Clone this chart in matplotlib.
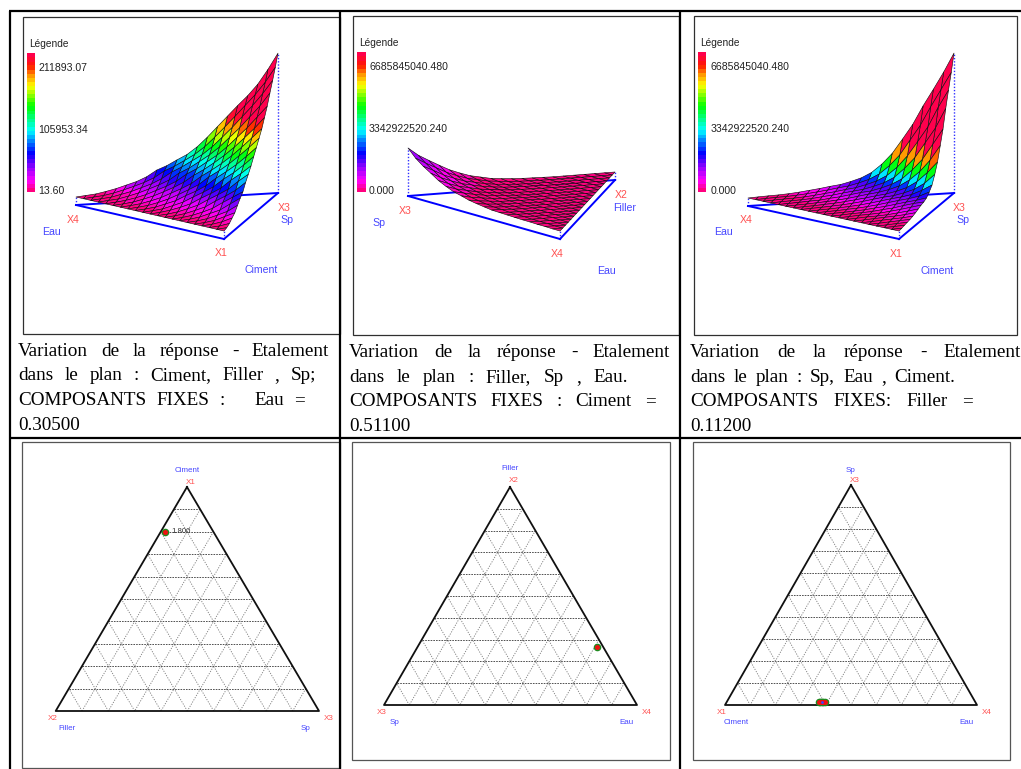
import numpy as np
import matplotlib
matplotlib.use("Agg")
import matplotlib.pyplot as plt
from matplotlib.collections import PolyCollection
from matplotlib.colors import LinearSegmentedColormap
from matplotlib.patches import Rectangle

# ---------- data: response surfaces, one row per mesh level from the apex outwards ----------
surface_ciment_filler_sp = [  # thousands
 [411],
 [362,374],
 [318,329,340],
 [284,292,300,308],
 [255,260,265,269,274],
 [224,228,233,237,242,246],
 [193,197,201,205,210,214,218],
 [162,167,172,177,182,186,191,196],
 [134,139,144,149,154,159,164,169,174],
 [112,117,121,126,130,135,139,144,148,153],
 [97,100,104,107,111,114,117,121,124,128,131],
 [81,84,87,89,92,95,98,101,104,106,109,112],
 [69,71,73,75,77,79,81,84,86,88,90,92,94],
 [50,52,54,55,57,59,60,62,64,66,67,69,71,72],
 [37,39,40,42,43,45,46,48,49,51,52,54,55,57,59],
 [28,29,30,31,32,33,34,35,37,38,39,40,41,42,43,44],
 [19,20,20,21,21,22,22,23,23,24,24,25,25,26,26,27,28],
 [12,12,13,13,13,14,14,14,15,15,15,16,16,16,17,17,18,19],
 [6,6,6,6,7,7,7,7,7,7,8,8,8,8,8,8,8,9,9],
 [3,3,3,3,3,3,3,3,3,3,3,3,3,3,3,3,3,3,3,3],
 [0,0,0,0,0,0,0,0,0,0,0,0,0,0,0,0,0,0,0,0,0],
]
surface_filler_sp_eau = [  # 1e9
 [1.49],
 [1.19,1.19],
 [.97,.97,.97],
 [.76,.77,.78,.79],
 [.56,.57,.58,.59,.60],
 [.41,.42,.43,.44,.45,.46],
 [.28,.29,.30,.31,.32,.33,.34],
 [.20,.21,.22,.23,.24,.25,.26,.27],
 [.12,.13,.14,.15,.16,.17,.18,.18,.19],
 [.08,.09,.09,.10,.11,.11,.12,.13,.13,.14],
 [.05,.05,.06,.06,.07,.07,.08,.08,.09,.09,.10],
 [.03,.03,.03,.04,.04,.04,.05,.05,.05,.06,.06,.06],
 [.02,.02,.02,.03,.03,.03,.03,.04,.04,.04,.04,.05,.05],
 [.01,.01,.01,.02,.02,.02,.02,.02,.03,.03,.03,.03,.03,.04],
 [.00,.00,.01,.01,.01,.01,.01,.02,.02,.02,.02,.02,.02,.03,.03],
 [.00,.00,.00,.00,.01,.01,.01,.01,.01,.01,.01,.02,.02,.02,.02,.02],
 [.00,.00,.00,.00,.00,.00,.01,.01,.01,.01,.01,.01,.01,.01,.01,.01,.02],
 [.00,.00,.00,.00,.00,.00,.00,.00,.00,.01,.01,.01,.01,.01,.01,.01,.01,.01],
 [.00,.00,.00,.00,.00,.00,.00,.00,.00,.00,.00,.00,.00,.00,.01,.01,.01,.01,.01],
 [.00,.00,.00,.00,.00,.00,.00,.00,.00,.00,.00,.00,.00,.00,.00,.00,.00,.00,.00,.00],
 [.00,.00,.00,.00,.00,.00,.00,.00,.00,.00,.00,.00,.00,.00,.00,.00,.00,.00,.00,.00,.00],
]
surface_sp_eau_ciment = [  # 1e9
 [22.3],
 [19.2,19.4],
 [16.4,16.6,16.8],
 [13.7,13.8,14.0,14.1],
 [10.7,10.8,10.8,10.9,11.0],
 [8.3,8.4,8.4,8.5,8.5,8.6],
 [6.0,6.0,6.1,6.1,6.1,6.2,6.2],
 [4.3,4.3,4.3,4.4,4.4,4.4,4.5,4.5],
 [3.0,3.0,3.0,3.0,3.0,3.1,3.1,3.1,3.1],
 [2.2,2.2,2.2,2.2,2.2,2.2,2.2,2.2,2.3,2.3],
 [1.7,1.7,1.7,1.7,1.7,1.7,1.7,1.7,1.7,1.7,1.7],
 [1.3,1.3,1.3,1.3,1.3,1.35,1.35,1.35,1.4,1.4,1.4,1.4],
 [1.1,1.1,1.1,1.1,1.15,1.15,1.15,1.2,1.2,1.2,1.2,1.25,1.25],
 [.85,.85,.85,.9,.9,.9,.9,.95,.95,.95,.95,1.0,1.0,1.0],
 [.65,.65,.65,.65,.65,.65,.7,.7,.7,.7,.7,.7,.75,.75,.75],
 [.45,.45,.45,.5,.5,.5,.5,.5,.5,.5,.55,.55,.55,.55,.55,.55],
 [.3,.3,.3,.3,.3,.35,.35,.35,.35,.35,.35,.35,.35,.35,.4,.4,.4],
 [.2,.2,.2,.2,.25,.25,.25,.25,.25,.25,.25,.25,.25,.25,.3,.3,.3,.3],
 [.15,.15,.15,.15,.15,.15,.15,.15,.15,.15,.15,.2,.2,.2,.2,.2,.2,.2,.2],
 [.08,.08,.08,.08,.08,.08,.08,.08,.08,.08,.08,.08,.08,.08,.08,.08,.08,.08,.08,.08],
 [0,0,0,0,0,0,0,0,0,0,0,0,0,0,0,0,0,0,0,0,0],
]
ticks_a = ["211893.07", "105953.34", "13.60"]
ticks_b = ["6685845040.480", "3342922520.240", "0.000"]
captions = [
 ["Variation de la réponse - Etalement", "dans le plan : Ciment, Filler , Sp;", "COMPOSANTS FIXES :   Eau =", "0.30500"],
 ["Variation de la réponse - Etalement", "dans le plan : Filler, Sp , Eau.", "COMPOSANTS FIXES : Ciment =", "0.51100"],
 ["Variation de la réponse - Etalement", "dans le plan : Sp, Eau , Ciment.", "COMPOSANTS FIXES: Filler =", "0.11200"],
]
# ternary compositions (top, left, right)
pts_a = [(0.80, 0.184, 0.016)]
pts_b = [(0.266, 0.025, 0.709)]
pts_c = [(0.014, 0.621, 0.365), (0.014, 0.615, 0.371), (0.014, 0.609, 0.377), (0.014, 0.603, 0.383), (0.014, 0.597, 0.389)]
point_label_a = "1.800"

# ---------- styling / layout ----------
BLUE_TXT = "#4646ff"; RED_TXT = "#ff5050"; BLUE = "#0000ff"
SANS = "Liberation Sans"; SERIF = "Liberation Serif"
spectrum = LinearSegmentedColormap.from_list("spec", [
 (0.00, (1, 0, .5)), (0.07, (1, 0, 1)), (0.17, (.55, 0, 1)), (0.27, (0, 0, 1)),
 (0.36, (0, .5, 1)), (0.44, (0, 1, 1)), (0.62, (0, 1, 0)), (0.77, (1, 1, 0)),
 (0.85, (1, .6, 0)), (0.92, (1, .1, 0)), (1.00, (1, 0, .3))], N=34)

fig = plt.figure(figsize=(10.21, 7.69), dpi=100, facecolor="white")
ax = fig.add_axes([0, 0, 1, 1])
ax.set_axis_off()

def frame(x0, y0, x1, y1, color="#303030"):
    ax.add_patch(Rectangle((x0, y0), x1-x0, y1-y0, fc="white", ec=color, lw=0.9, zorder=1))

def surface(rows, tip, left, right, h0, px_per_unit, vmax):
    n = len(rows) - 1
    tip, left, right = map(np.array, (tip, left, right))
    def node(k, j):
        p = tip*(1-k/n) + left*(k-j)/n + right*j/n
        return (p[0], p[1] - h0 - rows[k][j]*px_per_unit)
    polys, vals = [], []
    for k in range(n):
        for j in range(k+1):
            if k + 2 <= n:
                polys.append([node(k, j), node(k+1, j), node(k+2, j+1), node(k+1, j+1)])
                vals.append(np.mean([rows[k][j], rows[k+1][j], rows[k+2][j+1], rows[k+1][j+1]]))
            else:
                polys.append([node(k, j), node(k+1, j), node(k+1, j+1)])
                vals.append(np.mean([rows[k][j], rows[k+1][j], rows[k+1][j+1]]))
    pc = PolyCollection(polys, array=np.array(vals), cmap=spectrum, clim=(0, vmax),
                        edgecolors="#101010", linewidths=0.42, zorder=3)
    ax.add_collection(pc)
    for c, z in ((tip, rows[0][0]), (left, rows[n][0]), (right, rows[n][n])):
        ax.plot([c[0], c[0]], [c[1], c[1]-h0-z*px_per_unit], ls=(0, (1, 1.3)), color="#3030ff", lw=1.0, zorder=2)
    ax.plot(*zip(tip, left), color=BLUE, lw=1.4, zorder=2)
    ax.plot(*zip(tip, right), color=BLUE, lw=1.4, zorder=2)
    ax.plot(*zip(left, right), color=BLUE, lw=1.4, zorder=2)

def colorbar(x0, x1, y0, y1, ticks, tick_x, tick_ys, leg_x, leg_y):
    ax.imshow(np.linspace(1, 0, 256).reshape(-1, 1), cmap=spectrum, vmin=0, vmax=1,
              extent=(x0, x1, y1, y0), aspect="auto", zorder=2, interpolation="nearest")
    ax.text(leg_x, leg_y, "Légende", family=SANS, fontsize=7.3, color="#222222", va="center", zorder=4)
    for t, y in zip(ticks, tick_ys):
        ax.text(tick_x, y, t, family=SANS, fontsize=7.6, color="#222222", va="center", zorder=4)

def lab(x, y, s, c, size=7.6):
    ax.text(x, y, s, family=SANS, fontsize=size, color=c, ha="center", va="center", zorder=4)

def ternary(tip, left, right, pts, core=False):
    tip, left, right = map(np.array, (tip, left, right))
    for i in range(1, 10):
        f = i/10
        for n_fam, (a, b, c) in enumerate(((tip, left, right), (left, right, tip), (right, tip, left))):
            p = a*(1-f) + b*f; q = a*(1-f) + c*f
            if n_fam == 0:
                ax.plot(*zip(p, q), ls=(0, (1.8, 1.2)), color="#444444", lw=0.65, zorder=2)
            else:
                ax.plot(*zip(p, q), ls=(0, (1.3, 1.5)), color="#808080", lw=0.65, zorder=2)
    ax.plot(*zip(tip, left, right, tip), color="#101010", lw=1.3, zorder=3)
    xy = np.array([t*tip + l*left + r*right for t, l, r in pts])
    ax.scatter(xy[:, 0], xy[:, 1], s=30, c="#1f8a1f", linewidths=0, zorder=4)
    ax.scatter(xy[:, 0], xy[:, 1], s=13, c="#ee1111", linewidths=0, zorder=5)
    if core:
        ax.scatter(xy[2:3, 0], xy[2:3, 1], s=4, c="#4040ff", linewidths=0, zorder=6)
    return xy

# ---------- top row ----------
frame(22.5, 16.5, 339.5, 333.5)
frame(352.5, 15.5, 678.5, 334.5)
frame(693.5, 15.5, 1016.5, 334.5)

colorbar(26.5, 34.5, 53, 192, ticks_a, 38.5, (68, 130, 191), 29, 44)
surface(surface_ciment_filler_sp, (278, 193), (76, 205), (224, 239), 8, 0.3208, 240)
for x, y, s, c in ((73, 220, "X4", RED_TXT), (51, 232, "Eau", BLUE_TXT), (221, 253, "X1", RED_TXT),
                   (261, 270, "Ciment", BLUE_TXT), (284, 208, "X3", RED_TXT), (287, 220, "Sp", BLUE_TXT)):
    lab(x, y, s, c)

colorbar(356.5, 365, 52, 192, ticks_b, 369, (67, 129, 191), 359.5, 43)
surface(surface_filler_sp_eau, (408, 196), (615, 180), (560, 239), 8, 26.88, 7.44)
for x, y, s, c in ((405, 211, "X3", RED_TXT), (379, 223, "Sp", BLUE_TXT), (557, 254, "X4", RED_TXT),
                   (606, 271, "Eau", BLUE_TXT), (621, 195, "X2", RED_TXT), (625, 208, "Filler", BLUE_TXT)):
    lab(x, y, s, c)

colorbar(697.5, 705.5, 52, 192, ticks_b, 710.5, (67, 129, 191), 700, 43)
surface(surface_sp_eau_ciment, (954, 193), (748, 206), (899, 239), 8, 5.917, 7.44)
for x, y, s, c in ((746, 220, "X4", RED_TXT), (723, 232, "Eau", BLUE_TXT), (896, 254, "X1", RED_TXT),
                   (937, 271, "Ciment", BLUE_TXT), (959, 208, "X3", RED_TXT), (963, 220, "Sp", BLUE_TXT)):
    lab(x, y, s, c)

# ---------- bottom row ----------
frame(21.5, 441.5, 339.5, 767.5, "#555555")
frame(351.5, 441.5, 669.5, 759.5, "#555555")
frame(692.5, 441.5, 1009.5, 759.5, "#555555")

xy = ternary((187, 487), (55.7, 711), (319, 711), pts_a)
lab(xy[0, 0]+16, xy[0, 1], point_label_a, "#333333", 5.6)
for x, y, s, c in ((187, 470, "Ciment", BLUE_TXT), (191, 482, "X1", RED_TXT), (53, 719, "X2", RED_TXT),
                   (67, 728, "Filler", BLUE_TXT), (329, 719, "X3", RED_TXT), (306, 728, "Sp", BLUE_TXT)):
    lab(x, y, s, c, 5.8)
ternary((510, 487), (384, 705), (637, 705), pts_b)
for x, y, s, c in ((510, 469, "Filler", BLUE_TXT), (514, 481, "X2", RED_TXT), (382, 713, "X3", RED_TXT),
                   (395, 722, "Sp", BLUE_TXT), (647, 713, "X4", RED_TXT), (626, 722, "Eau", BLUE_TXT)):
    lab(x, y, s, c, 5.8)
ternary((851, 485), (725, 705), (977, 705), pts_c, core=True)
for x, y, s, c in ((851, 470, "Sp", BLUE_TXT), (855, 481, "X3", RED_TXT), (722, 713, "X1", RED_TXT),
                   (736, 722, "Ciment", BLUE_TXT), (987, 713, "X4", RED_TXT), (966, 722, "Eau", BLUE_TXT)):
    lab(x, y, s, c, 5.8)

# ---------- table rules ----------
for x in (9.5, 340, 680):
    ax.plot([x, x], [11, 769], color="black", lw=1.6, zorder=6, solid_capstyle="butt")
for y in (11, 438):
    ax.plot([9, 1021], [y, y], color="black", lw=1.6, zorder=6, solid_capstyle="butt")

ax.set_xlim(0, 1021)
ax.set_ylim(769, 0)

# ---------- captions (justified; runs of spaces keep their weight) ----------
renderer = fig.canvas.get_renderer()
def caption(x0, lines, baselines, rights):
    for line, y, right in zip(lines, baselines, rights):
        parts = line.split(" ")
        nsp = len(parts) - 1
        words = [(w, i) for i, w in enumerate(parts) if w]
        objs = [ax.text(x0, y, w, family=SERIF, fontsize=13.8, color="black", va="baseline", zorder=4) for w, _ in words]
        widths = [o.get_window_extent(renderer).width for o in objs]
        gap = 5.0 if right is None or nsp == 0 else (right - x0 - sum(widths)) / nsp
        x = x0
        for idx, (o, w) in enumerate(zip(objs, widths)):
            o.set_x(x)
            if idx + 1 < len(words):
                x += w + gap * (words[idx+1][1] - words[idx][1])

caption(18, captions[0], (356, 380, 405, 430), (329, 316, 305, None))
caption(349, captions[1], (357, 382, 406, 431), (670, 628, 656, None))
caption(690, captions[2], (357, 382, 406, 431), (1021, 955, 973, None))

fig.savefig("out.png", dpi=100)
